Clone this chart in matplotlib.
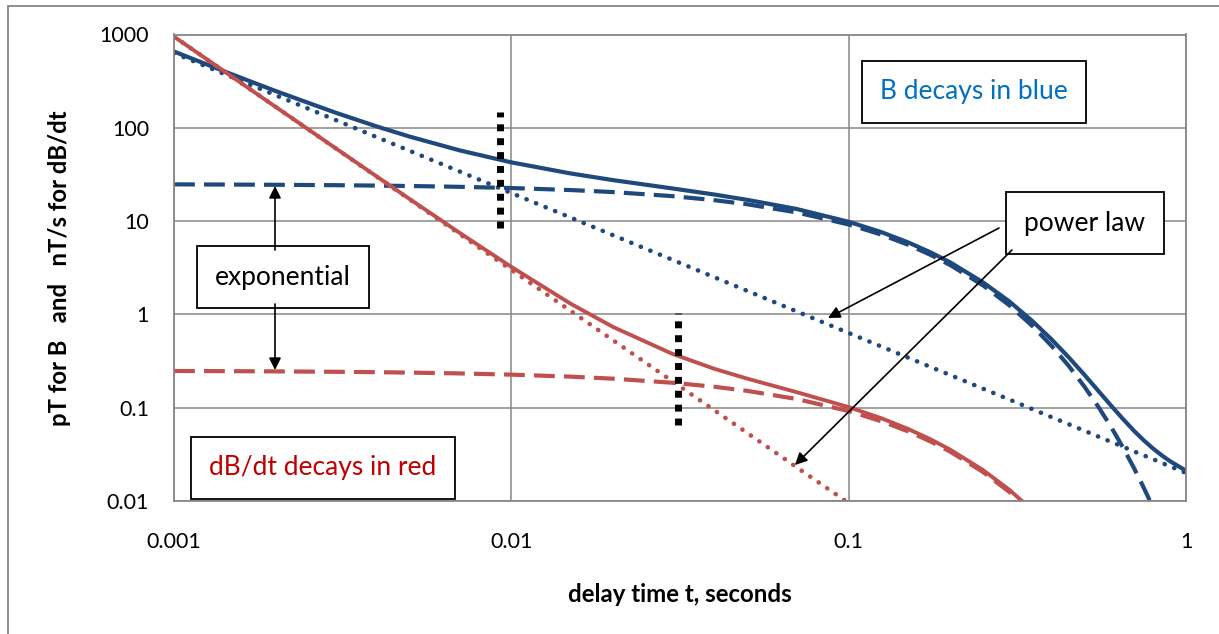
import numpy as np
import matplotlib
matplotlib.use("Agg")
import matplotlib.pyplot as plt
from matplotlib.patches import Rectangle

plt.rcParams['font.family'] = ['Lato', 'DejaVu Sans']

##### Datos
t = [0.001, 0.0015, 0.002, 0.003, 0.004, 0.005, 0.007, 0.01, 0.015, 0.02, 0.03, 0.04,
     0.05, 0.07, 0.1, 0.125, 0.15, 0.175, 0.2, 0.25, 0.3, 0.35, 0.4, 0.45, 0.5, 0.55,
     0.6, 0.65, 0.7, 0.75, 0.8, 0.85, 0.9, 1.0]

# B (pT): total, exponencial, ley de potencia
B_total = [657, 369, 248, 146, 103.1, 80.4, 57.5, 42.6, 32.4, 27.5, 22.4, 19.26,
           16.9, 13.5, 9.83, 7.62, 5.92, 4.62, 3.61, 2.21, 1.37, 0.852, 0.537, 0.344,
           0.225, 0.151, 0.105, 0.0758, 0.0569, 0.0446, 0.0363, 0.0306, 0.0265, 0.0211]
B_exp = [24.75, 24.63, 24.5, 24.26, 24.02, 23.78, 23.31, 22.62, 21.52, 20.47, 18.52,
         16.76, 15.16, 12.41, 9.20, 7.16, 5.58, 4.34, 3.38, 2.05, 1.245, 0.755, 0.458,
         0.278, 0.168, 0.102, 0.062, 0.0376, 0.0228, 0.0138, 0.0084, 0.0051, 0.0031,
         0.0011]
B_pot = [632, 344, 224, 122, 79.1, 56.6, 34.2, 20.0, 10.9, 7.07, 3.85, 2.5, 1.79,
         1.08, 0.632, 0.4525, 0.344, 0.273, 0.224, 0.16, 0.122, 0.0966, 0.0791, 0.0663,
         0.0566, 0.049, 0.043, 0.0382, 0.0341, 0.0308, 0.028, 0.0255, 0.0234, 0.02]

# dB/dt (nT/s): total, exponencial, ley de potencia
dB_total = [949, 344.5, 167.9, 61.1, 29.9, 17.2, 7.55, 3.23, 1.30, 0.735, 0.378,
            0.261, 0.205, 0.147, 0.1015, 0.0771, 0.0592, 0.0458, 0.0355, 0.0215,
            0.0131, 0.008, 0.0047, 0.0028, 0.0017, 0.001, 0.0006, 0.0004, 0.0002,
            0.00014, 0.00008, 0.00005, 0.00003, 0.00001]
dB_exp = [0.2475, 0.2463, 0.245, 0.2426, 0.2402, 0.2378, 0.2331, 0.2262, 0.2152,
          0.2047, 0.1852, 0.1676, 0.1516, 0.1241, 0.092, 0.0716, 0.0558, 0.0434,
          0.0338, 0.0205, 0.01245, 0.00755, 0.0046, 0.0028, 0.0017, 0.001, 0.0006,
          0.0004, 0.0002, 0.00014, 0.00008, 0.00005, 0.00003, 0.00001]
dB_pot = [949, 344, 168, 60.9, 29.65, 17.0, 7.32, 3.0, 1.09, 0.53, 0.1925, 0.0938,
          0.0537, 0.0231, 0.0095, 0.0054, 0.0034, 0.0023, 0.0017, 0.00096, 0.0006,
          0.0004, 0.0003, 0.0002, 0.00017, 0.00013, 0.0001, 0.00008, 0.00006, 0.00005,
          0.00004, 0.00003, 0.00003, 0.00003]

# Marcas verticales (punteado negro)
marca_t = [0.00925, 0.0311]
marca_y = [(8.4, 147), (0.065, 1.03)]

azul = '#1F497D'
rojo = '#C0504D'
gris = '#878787'

fig = plt.figure(figsize=(12.19, 6.34), dpi=100)
W, H = 1219, 634
x0, x1, y0, y1 = 174, 1186, 34.5, 501
ax = fig.add_axes([x0 / W, 1 - y1 / H, (x1 - x0) / W, (y1 - y0) / H])

def px(x, y):
    # pixeles de la imagen -> fraccion de ejes
    return ((x - x0) / (x1 - x0), (y1 - y) / (y1 - y0))

# marco exterior
fig.patches.append(Rectangle((8 / W, -0.1), 1.2, 1 - 6 / H + 0.1, transform=fig.transFigure,
                             fill=False, edgecolor=gris, lw=1.3))

punto = (0, (0.05, 2.2))
guion = (0, (5, 2.2))
ax.plot(t, B_total, color=azul, lw=3.0, solid_capstyle='round')
ax.plot(t, B_exp, color=azul, lw=3.0, linestyle=guion)
ax.plot(t, B_pot, color=azul, lw=3.3, linestyle=punto, dash_capstyle='round')
ax.plot(t, dB_total, color=rojo, lw=2.8, solid_capstyle='round')
ax.plot(t, dB_exp, color=rojo, lw=3.0, linestyle=guion)
ax.plot(t, dB_pot, color=rojo, lw=3.3, linestyle=punto, dash_capstyle='round')

for mt, (ya, yb) in zip(marca_t, marca_y):
    ax.plot([mt, mt], [ya, yb], color='black', lw=5, linestyle=(0, (1, 1)),
            dash_capstyle='butt')

ax.set_xscale('log')
ax.set_yscale('log')
ax.set_xlim(0.001, 1)
ax.set_ylim(0.01, 1000)
ax.set_xticks([0.001, 0.01, 0.1, 1])
ax.set_xticklabels(['0.001', '0.01', '0.1', '1'])
ax.set_yticks([0.01, 0.1, 1, 10, 100, 1000])
ax.set_yticklabels(['0.01', '0.1', '1', '10', '100', '1000'])
ax.minorticks_off()
ax.tick_params(length=0, labelsize=15.5)
ax.tick_params(axis='x', pad=22)
ax.tick_params(axis='y', pad=18)
ax.grid(True, color=gris, lw=1.1)
for s in ax.spines.values():
    s.set_color(gris)
    s.set_linewidth(1.3)

fig.text(680 / W, 1 - 595 / H, 'delay time t, seconds', ha='center', va='center',
         fontsize=17.3, fontweight='bold')
fig.text(60 / W, 1 - 268 / H, 'pT for B   and   nT/s for dB/dt', ha='center', va='center',
         rotation=90, fontsize=17.2, fontweight='bold')

# cajas de texto
caja = dict(boxstyle='square,pad=0.7', facecolor='white', edgecolor='black', lw=1.3)
ax.text(*px(283, 277), 'exponential', transform=ax.transAxes, ha='center', va='center',
        fontsize=19, bbox=caja, zorder=5)
ax.text(*px(974, 92), 'B decays in blue', transform=ax.transAxes, ha='center', va='center',
        fontsize=19, color='#0070C0', bbox=caja, zorder=5)
ax.text(*px(1085, 223), 'power law', transform=ax.transAxes, ha='center', va='center',
        fontsize=19, bbox=caja, zorder=5)
ax.text(*px(323, 468), 'dB/dt decays in red', transform=ax.transAxes, ha='center', va='center',
        fontsize=19, color='#C00000', bbox=caja, zorder=5)

# flechas
flecha = dict(arrowstyle='-|>', color='black', lw=1.2, mutation_scale=18, shrinkA=0, shrinkB=0)
for cola, punta in [((275, 250), (275, 186)), ((275, 304), (275, 370)),
                    ((999, 228), (828, 318)), ((1012, 250), (795, 465))]:
    ax.annotate('', xy=px(*punta), xytext=px(*cola), xycoords='axes fraction',
                textcoords='axes fraction', arrowprops=flecha, zorder=6)

fig.savefig('out.png', dpi=100)
